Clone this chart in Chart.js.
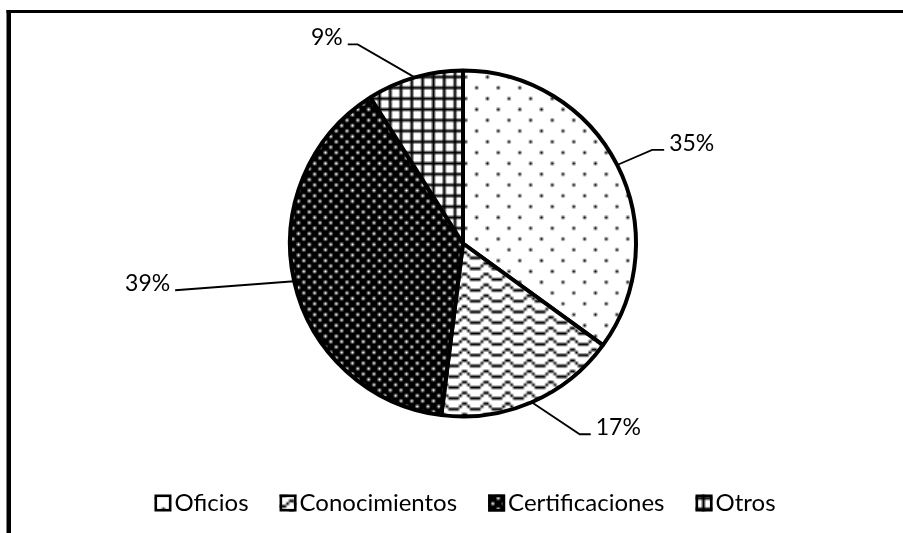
<!DOCTYPE html>
<html><head><meta charset="utf-8">
<script src="https://cdn.jsdelivr.net/npm/chart.js@4.4.0/dist/chart.umd.min.js"></script>
<style>html,body{margin:0;padding:0;background:#fff}#wrap{width:903px;height:533px;position:relative}canvas{display:block}</style>
</head><body><div id="wrap"><canvas id="c" width="903" height="533"></canvas></div>
<script>
// ---- data ----
const categories = ['Oficios', 'Conocimientos', 'Certificaciones', 'Otros'];
const values = [35, 17, 39, 9];
const patternNames = ['pct5', 'wave', 'pct90', 'smGrid'];

// ---- 8x8 Office-style pattern bitmaps ----
const bitmaps = {
  pct5:   ['10000000','00000000','00000000','00000000','00001000','00000000','00000000','00000000'],
  wave:   ['00000000','00011000','00100100','11000011','00000000','00011000','00100100','11000011'],
  pct90:  ['01110111','11111111','11011101','11111111','01110111','11111111','11011101','11111111'],
  smGrid: ['11111111','10001000','10001000','10001000','11111111','10001000','10001000','10001000']
};
const canvas = document.getElementById('c');
const ctx = canvas.getContext('2d');
function makePattern(name, scale) {
  const rows = bitmaps[name];
  const c = document.createElement('canvas'); c.width = 8; c.height = 8;
  const g = c.getContext('2d');
  const img = g.createImageData(8, 8);
  for (let y = 0; y < 8; y++) for (let x = 0; x < 8; x++) {
    const on = rows[y][x] === '1';
    const k = (y * 8 + x) * 4;
    const v = on ? 0 : 255;
    img.data[k] = v; img.data[k+1] = v; img.data[k+2] = v; img.data[k+3] = 255;
  }
  g.putImageData(img, 0, 0);
  const p = ctx.createPattern(c, 'repeat');
  p.setTransform(new DOMMatrix().scale(scale));
  return p;
}
const fills = patternNames.map(n => makePattern(n, 2.7));

const FONT = 'Lato, "Open Sans", sans-serif';

const framePlugin = {
  id: 'frame',
  beforeDraw(chart) {
    const c = chart.ctx;
    c.save();
    c.fillStyle = '#fff';
    c.fillRect(0, 0, chart.width, chart.height);
    c.fillStyle = '#000';
    c.fillRect(6.5, 10, 4.5, chart.height - 10);
    c.fillRect(6.5, 10, chart.width - 6.5, 3);
    c.restore();
  }
};

const leaderPlugin = {
  id: 'leaders',
  afterDatasetsDraw(chart, args, opts) {
    const c = chart.ctx;
    const meta = chart.getDatasetMeta(0);
    const data = chart.data.datasets[0].data;
    const total = data.reduce((a, b) => a + b, 0);
    c.save();
    c.strokeStyle = '#000';
    c.lineWidth = 1.8;
    c.fillStyle = '#000';
    c.font = opts.fontSize + 'px ' + FONT;
    c.textBaseline = 'alphabetic';
    meta.data.forEach((arc, i) => {
      const p = arc.getProps(['x', 'y', 'startAngle', 'endAngle', 'outerRadius'], true);
      const mid = (p.startAngle + p.endAngle) / 2;
      const ax = p.x + Math.cos(mid) * p.outerRadius;
      const ay = p.y + Math.sin(mid) * p.outerRadius;
      const o = opts.leaders[i];
      const ex = ax + o.dx, ey = ay + o.dy;
      const hx = ex + o.h;
      c.beginPath();
      c.moveTo(ax, ay); c.lineTo(ex, ey); c.lineTo(hx, ey);
      c.stroke();
      const txt = Math.round(data[i] / total * 100) + '%';
      const right = o.dx > 0;
      c.textAlign = right ? 'left' : 'right';
      c.fillText(txt, hx + (right ? opts.gap : -opts.gap), ey + 1);
    });
    c.restore();
  }
};

const legendPlugin = {
  id: 'patternLegend',
  afterDraw(chart, args, opts) {
    const c = chart.ctx;
    const labels = chart.data.labels;
    const ds = chart.data.datasets[0];
    c.save();
    c.font = opts.fontSize + 'px ' + FONT;
    const widths = labels.map(l => c.measureText(l).width);
    const itemW = widths.map(w => opts.box + opts.boxGap + w);
    const total = itemW.reduce((a, b) => a + b, 0) + opts.spacing * (labels.length - 1);
    let x = opts.centerX - total / 2;
    const cy = opts.centerY;
    labels.forEach((l, i) => {
      c.fillStyle = ds.backgroundColor[i];
      c.fillRect(x, cy - opts.box / 2, opts.box, opts.box);
      c.strokeStyle = '#000';
      c.lineWidth = 2.6;
      c.strokeRect(x + 1.3, cy - opts.box / 2 + 1.3, opts.box - 2.6, opts.box - 2.6);
      c.fillStyle = '#000';
      c.textAlign = 'left';
      c.textBaseline = 'alphabetic';
      c.fillText(l, x + opts.box + opts.boxGap, cy + opts.baselineOffset);
      x += itemW[i] + opts.spacing;
    });
    c.restore();
  }
};

new Chart(canvas, {
  type: 'pie',
  data: {
    labels: categories,
    datasets: [{
      data: values,
      backgroundColor: fills,
      borderColor: '#000',
      borderWidth: 4,
      radius: 173
    }]
  },
  options: {
    responsive: false,
    animation: false,
    devicePixelRatio: 1,
    layout: { padding: { left: 60, right: 37, top: 50, bottom: 96 } },
    plugins: {
      legend: { display: false },
      tooltip: { enabled: false },
      leaders: {
        fontSize: 23,
        gap: 5,
        leaders: [
          { dx: 35, dy: -15, h: 12 },
          { dx: 48, dy: 32, h: 11 },
          { dx: -119, dy: 9, h: 0 },
          { dx: -57, dy: -33, h: -10 }
        ]
      },
      patternLegend: {
        fontSize: 24,
        box: 17,
        boxGap: 3,
        spacing: 31,
        centerX: 465,
        centerY: 503,
        baselineOffset: 8
      }
    }
  },
  plugins: [framePlugin, leaderPlugin, legendPlugin]
});
</script>
</body></html>
